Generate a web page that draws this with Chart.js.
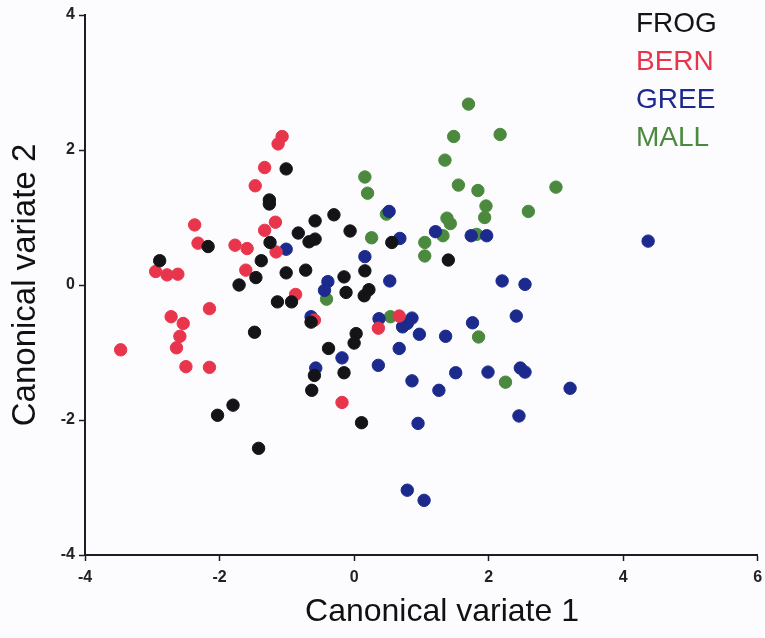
<!DOCTYPE html>
<html lang="en">
<head>
    <meta charset="UTF-8">
    <title>Canonical variates</title>
    <script src="https://cdn.jsdelivr.net/npm/chart.js"></script>
    <style>
        body {
            margin: 0;
            background: #fcfbfd;
        }
        .chart-box {
            width: 765px;
            height: 638px;
        }
    </style>
</head>
<body>
    <div class="chart-box">
        <canvas id="cvChart"></canvas>
    </div>

    <script>
        // group names (legend)
        const groups = ['FROG', 'BERN', 'GREE', 'MALL'];

        // values
        const frogX = [-1.01, -1.26, -1.26, -0.58, -0.30, -0.06, -0.83, -0.67, -0.58, -2.17, -1.25, -1.38, -2.89,
            -1.01, -0.72, -1.46, -1.71, -1.14, -0.93, 0.56, 1.40, -0.15, 0.16, -0.12, 0.22, 0.15, -0.64, -1.48,
            0.03, 0.00, -0.38, -0.15, -0.59, -0.63, -1.80, -2.03, -1.42, 0.11];
        const frogY = [1.72, 1.26, 1.20, 0.95, 1.04, 0.80, 0.77, 0.64, 0.68, 0.57, 0.63, 0.36, 0.36,
            0.18, 0.22, 0.11, 0.00, -0.25, -0.25, 0.63, 0.37, 0.12, 0.21, -0.11, -0.07, -0.16, -0.55, -0.70,
            -0.72, -0.86, -0.94, -1.30, -1.34, -1.56, -1.78, -1.93, -2.42, -2.04];

        const bernX = [-1.07, -1.13, -1.33, -1.47, -1.17, -1.33, -2.37, -2.32, -1.77, -1.59, -1.16, -2.95, -2.78,
            -2.62, -1.61, -0.87, -2.15, -2.72, -2.54, -2.59, -2.64, -3.47, -2.50, -2.15, -0.59, 0.36, 0.67, -0.18];
        const bernY = [2.20, 2.09, 1.74, 1.47, 0.93, 0.81, 0.89, 0.62, 0.59, 0.54, 0.49, 0.20, 0.15,
            0.16, 0.22, -0.14, -0.35, -0.47, -0.57, -0.76, -0.93, -0.96, -1.21, -1.22, -0.52, -0.64, -0.46, -1.74];

        const greeX = [-1.01, -0.39, -0.44, 0.52, 1.21, 1.74, 1.97, 0.68, 0.16, 0.53, 2.20, 2.54, 4.37, -0.64,
            0.37, 0.86, 0.79, 0.72, 0.97, 1.36, 1.76, 2.41, -0.18, 0.67, 0.36, -0.57, 1.51, 1.99, 2.47, 2.54,
            0.86, 1.26, 2.45, 3.21, 0.95, 0.79, 1.04];
        const greeY = [0.53, 0.05, -0.08, 1.09, 0.79, 0.73, 0.73, 0.69, 0.42, 0.06, 0.06, 0.01, 0.65, -0.47,
            -0.50, -0.49, -0.57, -0.62, -0.73, -0.76, -0.56, -0.46, -1.08, -0.94, -1.19, -1.23, -1.30, -1.29, -1.23, -1.29,
            -1.42, -1.56, -1.94, -1.53, -2.05, -3.04, -3.19];

        const mallX = [1.70, 1.48, 2.17, 1.35, 0.16, 0.20, 1.55, 1.84, 3.00, 1.96, 1.94, 2.59, 0.48, 1.38,
            1.43, 1.32, 1.82, 0.26, 1.05, 1.05, -0.41, 0.54, 1.85, 2.25];
        const mallY = [2.68, 2.20, 2.23, 1.85, 1.60, 1.36, 1.48, 1.40, 1.45, 1.17, 1.00, 1.09, 1.05, 0.99,
            0.91, 0.73, 0.75, 0.70, 0.63, 0.43, -0.21, -0.47, -0.77, -1.44];

        const xTicks = [-4, -2, 0, 2, 4, 6];
        const yTicks = [-4, -2, 0, 2, 4];

        const colors = ['#141418', '#e8354c', '#1b2a8c', '#4b8a3e'];

        function toPoints(xs, ys) {
            return xs.map((x, i) => ({ x: x, y: ys[i] }));
        }

        const series = [[frogX, frogY], [bernX, bernY], [greeX, greeY], [mallX, mallY]];

        // legend as plain coloured words, top right
        const wordLegend = {
            id: 'wordLegend',
            afterDraw(chart) {
                const ctx = chart.ctx;
                ctx.save();
                ctx.font = '28px "Liberation Sans", Arial, sans-serif';
                ctx.textBaseline = 'middle';
                ctx.textAlign = 'left';
                chart.data.datasets.forEach((ds, i) => {
                    ctx.fillStyle = ds.backgroundColor;
                    ctx.fillText(ds.label, 636, 24 + i * 38);
                });
                // x axis title, sits a bit right of the axis centre in the original
                ctx.fillStyle = '#111';
                ctx.font = '32px "Liberation Sans", Arial, sans-serif';
                ctx.textAlign = 'center';
                ctx.fillText('Canonical variate 1', 442, 612);
                ctx.restore();
            }
        };

        const tickFont = { family: '"Liberation Sans", Arial, sans-serif', size: 16, weight: 'bold' };

        new Chart(document.getElementById('cvChart'), {
            type: 'scatter',
            data: {
                datasets: series.map((s, i) => ({
                    label: groups[i],
                    data: toPoints(s[0], s[1]),
                    backgroundColor: colors[i],
                    borderColor: colors[i],
                    borderWidth: 1,
                    pointRadius: 6.2
                }))
            },
            options: {
                responsive: true,
                maintainAspectRatio: false,
                animation: false,
                layout: { padding: { top: 15, right: 7, left: 0, bottom: 0 } },
                plugins: {
                    legend: { display: false },
                    tooltip: { enabled: false }
                },
                scales: {
                    x: {
                        type: 'linear',
                        min: -4,
                        max: 6,
                        afterBuildTicks: axis => { axis.ticks = xTicks.map(v => ({ value: v })); },
                        afterFit: axis => {
                            axis.height = 83;
                            axis.paddingLeft = 0;
                            axis.paddingRight = 0;
                        },
                        grid: { drawOnChartArea: false, tickLength: 6, color: '#1b1b2c', tickWidth: 1.5 },
                        border: { display: true, color: '#1b1b2c', width: 2 },
                        ticks: { color: '#222', font: tickFont, padding: 7, maxRotation: 0 }
                    },
                    y: {
                        type: 'linear',
                        min: -4,
                        max: 4,
                        afterBuildTicks: axis => { axis.ticks = yTicks.map(v => ({ value: v })); },
                        afterFit: axis => {
                            axis.width = 85;
                            axis.paddingTop = 0;
                            axis.paddingBottom = 0;
                        },
                        grid: { drawOnChartArea: false, tickLength: 6, color: '#1b1b2c', tickWidth: 1.5 },
                        border: { display: true, color: '#1b1b2c', width: 2 },
                        ticks: { color: '#222', font: tickFont, padding: 4 },
                        title: {
                            display: true,
                            text: 'Canonical variate 2',
                            color: '#111',
                            font: { family: '"Liberation Sans", Arial, sans-serif', size: 33 },
                            padding: { top: 6, bottom: 0 }
                        }
                    }
                }
            },
            plugins: [wordLegend]
        });
    </script>
</body>
</html>
